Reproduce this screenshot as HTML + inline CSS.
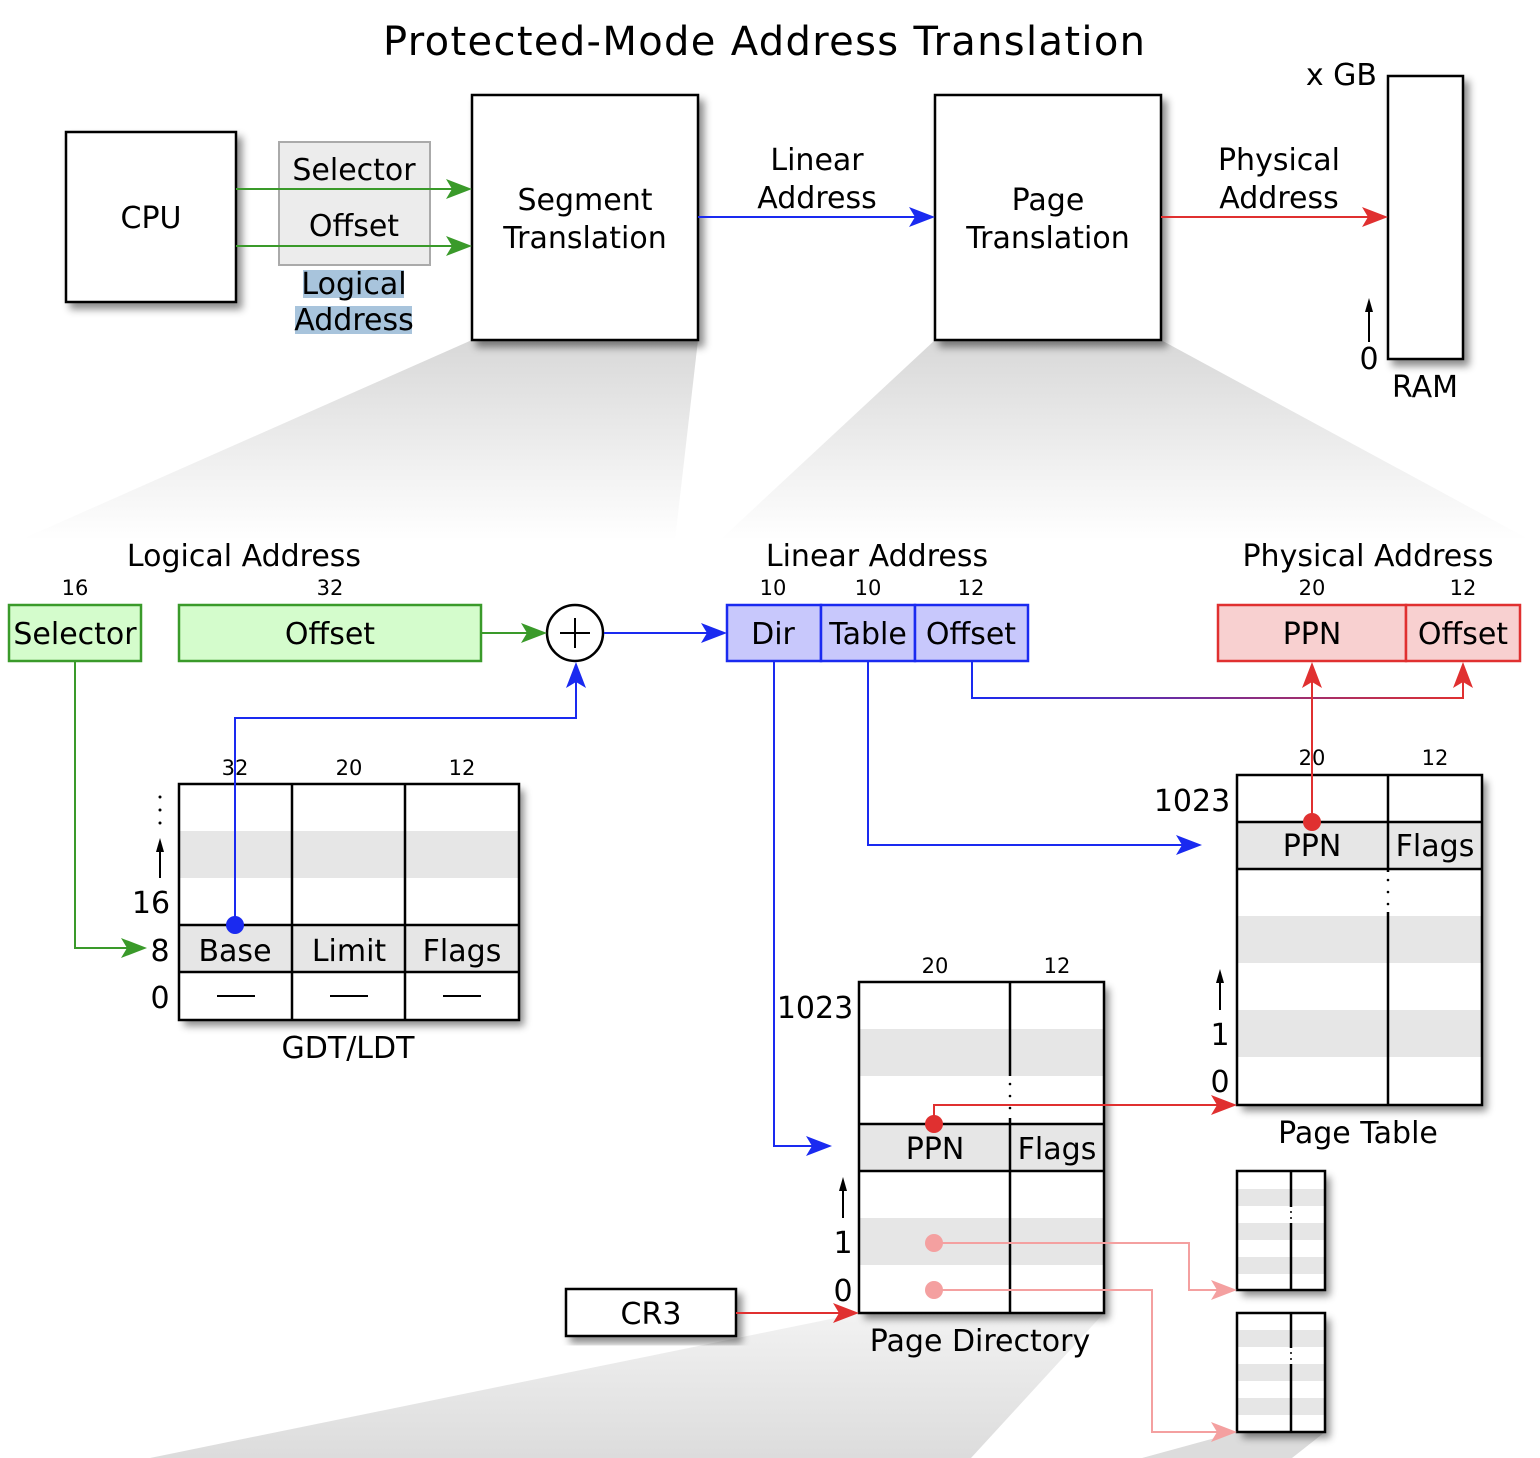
<!DOCTYPE html>
<html><head><meta charset="utf-8"><style>body{margin:0;background:#fff}svg{display:block}text{font-family:"DejaVu Sans","Liberation Sans",sans-serif;fill:#000}</style></head><body>
<svg width="1540" height="1458" viewBox="0 0 1540 1458" xmlns="http://www.w3.org/2000/svg">
<defs>
<filter id="sh" x="-10%" y="-10%" width="130%" height="130%"><feDropShadow dx="5" dy="6" stdDeviation="4" flood-color="#000" flood-opacity="0.45"/></filter>
<linearGradient id="g1" x1="0" y1="0" x2="0" y2="1"><stop offset="0" stop-color="#d8d8d8"/><stop offset="1" stop-color="#fff"/></linearGradient>
<linearGradient id="g2" x1="0" y1="0" x2="0" y2="1"><stop offset="0" stop-color="#f2f2f2"/><stop offset="1" stop-color="#dcdcdc"/></linearGradient>
<linearGradient id="br" x1="0" y1="0" x2="1" y2="0"><stop offset="0" stop-color="#1a2af0"/><stop offset="1" stop-color="#e03030"/></linearGradient>
</defs>
<polygon points="472,340 698,340 675,540 20,540" fill="url(#g1)"/>
<polygon points="935,340 1161,340 1530,540 720,540" fill="url(#g1)"/>
<polygon points="860,1313 1104,1313 971,1458 150,1458" fill="url(#g2)"/>
<polygon points="1237,1432 1325,1432 1292,1458 1142,1458" fill="#dcdcdc"/>
<text x="764" y="55" font-size="40" text-anchor="middle" textLength="762">Protected-Mode Address Translation</text>
<g stroke="#000" stroke-width="2.5" fill="#fff" filter="url(#sh)">
<rect x="66" y="132" width="170" height="170"/>
<rect x="472" y="95" width="226" height="245"/>
<rect x="935" y="95" width="226" height="245"/>
<rect x="1388" y="76" width="75" height="283"/>
</g>
<rect x="279" y="142" width="151" height="123" fill="#ececec" stroke="#aaa" stroke-width="2"/>
<rect x="303" y="270" width="101" height="28" fill="#a8c4dc"/>
<rect x="295" y="306" width="117" height="28" fill="#a8c4dc"/>
<g font-size="30" text-anchor="middle">
<text x="151" y="228">CPU</text>
<text x="354" y="180">Selector</text>
<text x="354" y="236">Offset</text>
<text x="354" y="294">Logical</text>
<text x="354" y="330">Address</text>
<text x="585" y="210">Segment</text>
<text x="585" y="248">Translation</text>
<text x="1048" y="210">Page</text>
<text x="1048" y="248">Translation</text>
<text x="817" y="170">Linear</text>
<text x="817" y="208">Address</text>
<text x="1279" y="170">Physical</text>
<text x="1279" y="208">Address</text>
<text x="1377" y="85" text-anchor="end">x GB</text>
<text x="1369" y="369">0</text>
<text x="1425" y="397">RAM</text>
</g>
<g stroke-width="2" fill="none">
<path d="M236,189H458" stroke="#3a9a2a"/><path d="M236,246H458" stroke="#3a9a2a"/>
<path d="M698,217H920" stroke="#1a2af0"/><path d="M1161,217H1374" stroke="#e03030"/>
<path d="M1369,342V308" stroke="#000"/>
</g>
<path d="M472,189l-26,-10 6,10 -6,10z" fill="#3a9a2a"/><path d="M472,246l-26,-10 6,10 -6,10z" fill="#3a9a2a"/>
<path d="M935,217l-26,-10 6,10 -6,10z" fill="#1a2af0"/><path d="M1388,217l-26,-10 6,10 -6,10z" fill="#e03030"/>
<path d="M1369,298l-4,14h8z" fill="#000"/>

<g font-size="30" text-anchor="middle">
<text x="244" y="566">Logical Address</text>
<text x="877" y="566">Linear Address</text>
<text x="1368" y="566">Physical Address</text>
</g>
<g font-size="21" text-anchor="middle">
<text x="75" y="595">16</text><text x="330" y="595">32</text>
<text x="773" y="595">10</text><text x="868" y="595">10</text><text x="971" y="595">12</text>
<text x="1312" y="595">20</text><text x="1463" y="595">12</text>
<text x="235" y="775">32</text><text x="349" y="775">20</text><text x="462" y="775">12</text>
<text x="1312" y="765">20</text><text x="1435" y="765">12</text>
<text x="935" y="973">20</text><text x="1057" y="973">12</text>
</g>
<g stroke-width="2.5">
<rect x="9" y="605" width="132" height="56" fill="#d4fccc" stroke="#3a9a2a"/>
<rect x="179" y="605" width="302" height="56" fill="#d4fccc" stroke="#3a9a2a"/>
<rect x="727" y="605" width="94" height="56" fill="#c8c8fc" stroke="#1a2af0"/>
<rect x="821" y="605" width="94" height="56" fill="#c8c8fc" stroke="#1a2af0"/>
<rect x="915" y="605" width="113" height="56" fill="#c8c8fc" stroke="#1a2af0"/>
<rect x="1218" y="605" width="188" height="56" fill="#f8d0d0" stroke="#e03030"/>
<rect x="1406" y="605" width="114" height="56" fill="#f8d0d0" stroke="#e03030"/>
</g>
<g font-size="30" text-anchor="middle">
<text x="75" y="644">Selector</text><text x="330" y="644">Offset</text>
<text x="773" y="644">Dir</text><text x="868" y="644">Table</text><text x="971" y="644">Offset</text>
<text x="1312" y="644">PPN</text><text x="1463" y="644">Offset</text>
</g>
<circle cx="575" cy="633" r="28" fill="#fff" stroke="#000" stroke-width="2.5"/>
<path d="M560,633h30M575,618v30" stroke="#000" stroke-width="2"/>

<g filter="url(#sh)"><rect x="179" y="784" width="340" height="236" fill="#fff"/></g>
<rect x="179" y="831" width="340" height="47" fill="#e6e6e6"/>
<rect x="179" y="925" width="340" height="47" fill="#e6e6e6"/>
<g stroke="#000" stroke-width="2.5" fill="none">
<rect x="179" y="784" width="340" height="236"/>
<path d="M292,784V1020M405,784V1020M179,925H519M179,972H519"/>
<path d="M217,996h38M330,996h38M443,996h38" stroke-width="2"/>
</g>
<g font-size="30" text-anchor="middle">
<text x="235" y="961">Base</text><text x="349" y="961">Limit</text><text x="462" y="961">Flags</text>
<text x="151" y="913">16</text><text x="160" y="961">8</text><text x="160" y="1008">0</text>
<text x="348" y="1058">GDT/LDT</text>
</g>
<g fill="#000"><circle cx="160" cy="797" r="1.5"/><circle cx="160" cy="810" r="1.5"/><circle cx="160" cy="823" r="1.5"/></g>
<path d="M160,878V848" stroke="#000" stroke-width="2"/><path d="M160,838l-4,14h8z"/>

<g filter="url(#sh)"><rect x="1237" y="775" width="245" height="330" fill="#fff"/></g>
<g fill="#e6e6e6"><rect x="1237" y="822" width="245" height="47"/><rect x="1237" y="916" width="245" height="47"/><rect x="1237" y="1010" width="245" height="47"/></g>
<g stroke="#000" stroke-width="2.5" fill="none">
<rect x="1237" y="775" width="245" height="330"/>
<path d="M1388,775V872M1388,912V1105M1237,822H1482M1237,869H1482"/>
</g>
<g fill="#000"><circle cx="1388" cy="880" r="1.3"/><circle cx="1388" cy="892" r="1.3"/><circle cx="1388" cy="904" r="1.3"/></g>
<g font-size="30" text-anchor="middle">
<text x="1312" y="856">PPN</text><text x="1435" y="856">Flags</text>
<text x="1192" y="811">1023</text><text x="1220" y="1045">1</text><text x="1220" y="1092">0</text>
<text x="1358" y="1143">Page Table</text>
</g>
<path d="M1220,1010V980" stroke="#000" stroke-width="2"/><path d="M1220,969l-4,14h8z"/>

<g filter="url(#sh)"><rect x="859" y="982" width="245" height="331" fill="#fff"/></g>
<g fill="#e6e6e6"><rect x="859" y="1029" width="245" height="47"/><rect x="859" y="1124" width="245" height="47"/><rect x="859" y="1218" width="245" height="47"/></g>
<g stroke="#000" stroke-width="2.5" fill="none">
<rect x="859" y="982" width="245" height="331"/>
<path d="M1010,982V1076M1010,1118V1313M859,1124H1104M859,1171H1104"/>
</g>
<g fill="#000"><circle cx="1010" cy="1084" r="1.3"/><circle cx="1010" cy="1096" r="1.3"/><circle cx="1010" cy="1108" r="1.3"/></g>
<g font-size="30" text-anchor="middle">
<text x="935" y="1159">PPN</text><text x="1057" y="1159">Flags</text>
<text x="815" y="1018">1023</text><text x="843" y="1253">1</text><text x="843" y="1301">0</text>
<text x="980" y="1351">Page Directory</text>
</g>
<path d="M843,1218V1188" stroke="#000" stroke-width="2"/><path d="M843,1177l-4,14h8z"/>

<g filter="url(#sh)"><rect x="1237" y="1171" width="88" height="119" fill="#fff"/><rect x="1237" y="1313" width="88" height="119" fill="#fff"/></g>
<g fill="#e6e6e6">
<rect x="1237" y="1189" width="88" height="17"/><rect x="1237" y="1223" width="88" height="17"/><rect x="1237" y="1257" width="88" height="17"/>
<rect x="1237" y="1330" width="88" height="17"/><rect x="1237" y="1364" width="88" height="17"/><rect x="1237" y="1398" width="88" height="17"/>
</g>
<g stroke="#000" stroke-width="2.5" fill="none">
<rect x="1237" y="1171" width="88" height="119"/><rect x="1237" y="1313" width="88" height="119"/>
<path d="M1291,1171V1207M1291,1223V1290M1291,1313V1348M1291,1364V1432"/>
</g>
<g fill="#000"><circle cx="1291" cy="1212" r="1"/><circle cx="1291" cy="1218" r="1"/><circle cx="1291" cy="1353" r="1"/><circle cx="1291" cy="1359" r="1"/></g>

<g filter="url(#sh)"><rect x="566" y="1289" width="170" height="47" fill="#fff" stroke="#000" stroke-width="2.5"/></g>
<text x="651" y="1324" font-size="30" text-anchor="middle">CR3</text>

<g fill="none" stroke-width="2">
<path d="M481,633H533" stroke="#3a9a2a"/>
<path d="M75,661V948H133" stroke="#3a9a2a"/>
<path d="M604,633H712" stroke="#1a2af0"/>
<path d="M235,925V718H576V676" stroke="#1a2af0"/>
<path d="M774,661V1146H818" stroke="#1a2af0"/>
<path d="M868,661V845H1188" stroke="#1a2af0"/>
<path d="M972,661V698H1463V676" stroke="url(#br)"/>
<path d="M1312,822V676" stroke="#e03030"/>
<path d="M934,1124V1105H1222" stroke="#e03030"/>
<path d="M736,1313H845" stroke="#e03030"/>
<path d="M934,1243H1189V1290H1222" stroke="#f4a0a0"/>
<path d="M934,1290H1152V1432H1222" stroke="#f4a0a0"/>
</g>
<path d="M547,633l-26,-10 6,10 -6,10z" fill="#3a9a2a"/>
<path d="M147,948l-26,-10 6,10 -6,10z" fill="#3a9a2a"/>
<path d="M727,633l-26,-10 6,10 -6,10z" fill="#1a2af0"/>
<path d="M576,662l-10,26 10,-6 10,6z" fill="#1a2af0"/>
<path d="M832,1146l-26,-10 6,10 -6,10z" fill="#1a2af0"/>
<path d="M1202,845l-26,-10 6,10 -6,10z" fill="#1a2af0"/>
<path d="M1463,662l-10,26 10,-6 10,6z" fill="#e03030"/>
<path d="M1312,662l-10,26 10,-6 10,6z" fill="#e03030"/>
<path d="M1237,1105l-26,-10 6,10 -6,10z" fill="#e03030"/>
<path d="M859,1313l-26,-10 6,10 -6,10z" fill="#e03030"/>
<path d="M1237,1290l-26,-10 6,10 -6,10z" fill="#f4a0a0"/>
<path d="M1237,1432l-26,-10 6,10 -6,10z" fill="#f4a0a0"/>
<circle cx="235" cy="925" r="9" fill="#1a2af0"/>
<circle cx="1312" cy="822" r="9" fill="#e03030"/>
<circle cx="934" cy="1124" r="9" fill="#e03030"/>
<circle cx="934" cy="1243" r="9" fill="#f4a0a0"/>
<circle cx="934" cy="1290" r="9" fill="#f4a0a0"/>
</svg>
</body></html>
